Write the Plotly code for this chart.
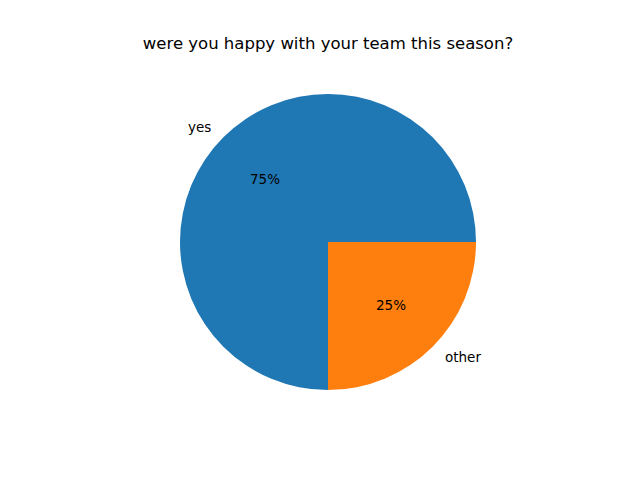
import numpy as np
import plotly.graph_objects as go

labels = ["yes", "other"]
values = [75, 25]
colors = ["#1f77b4", "#ff7f0e"]
title = "were you happy with your team this season?"

W, H = 640, 480
# pie centre / radius in pixels (matches matplotlib's equal-aspect axes)
cx_px, cy_px, r_px = 328, 242, 148

fig = go.Figure()
# matplotlib draws from 3 o'clock counterclockwise; the same layout in plotly
# is clockwise starting at 6 o'clock
fig.add_trace(
    go.Pie(
        labels=labels,
        values=values,
        marker=dict(colors=colors, line=dict(width=0)),
        sort=False,
        direction="clockwise",
        rotation=180,
        textinfo="none",
        hoverinfo="label+percent",
        domain=dict(
            x=[(cx_px - r_px) / W, (cx_px + r_px) / W],
            y=[(H - cy_px - r_px) / H, (H - cy_px + r_px) / H],
        ),
    )
)

# labels at 1.1 r and percentages at 0.6 r, like matplotlib's autopct
total = sum(values)
cum = np.cumsum(values)
annotations = []
for lab, v, c in zip(labels, values, cum):
    ang = 2 * np.pi * (c - v / 2) / total
    dx, dy = np.cos(ang), np.sin(ang)
    annotations.append(
        dict(
            x=(cx_px + 1.1 * r_px * dx) / W,
            y=(H - cy_px + 1.1 * r_px * dy) / H,
            xref="paper", yref="paper",
            text=lab,
            showarrow=False,
            xanchor="right" if dx < 0 else "left",
            yanchor="middle",
        )
    )
    annotations.append(
        dict(
            x=(cx_px + 0.6 * r_px * dx) / W,
            y=(H - cy_px + 0.6 * r_px * dy) / H,
            xref="paper", yref="paper",
            text="%.0f%%" % (100 * v / total),
            showarrow=False,
            xanchor="center",
            yanchor="middle",
        )
    )

fig.update_layout(
    width=W,
    height=H,
    margin=dict(l=0, r=0, t=0, b=0),
    paper_bgcolor="white",
    plot_bgcolor="white",
    showlegend=False,
    font=dict(family="DejaVu Sans", size=13.5, color="black"),
    title=dict(
        text=title,
        x=cx_px / W,
        y=1 - 43 / H,
        xanchor="center",
        yanchor="middle",
        font=dict(size=16.5, color="black"),
    ),
    annotations=annotations,
)

# drop the browser's default body margin so the figure sits at (0, 0)
fig.write_html(
    "out.html",
    config={"displayModeBar": False},
    post_script="document.body.style.margin='0';",
)
